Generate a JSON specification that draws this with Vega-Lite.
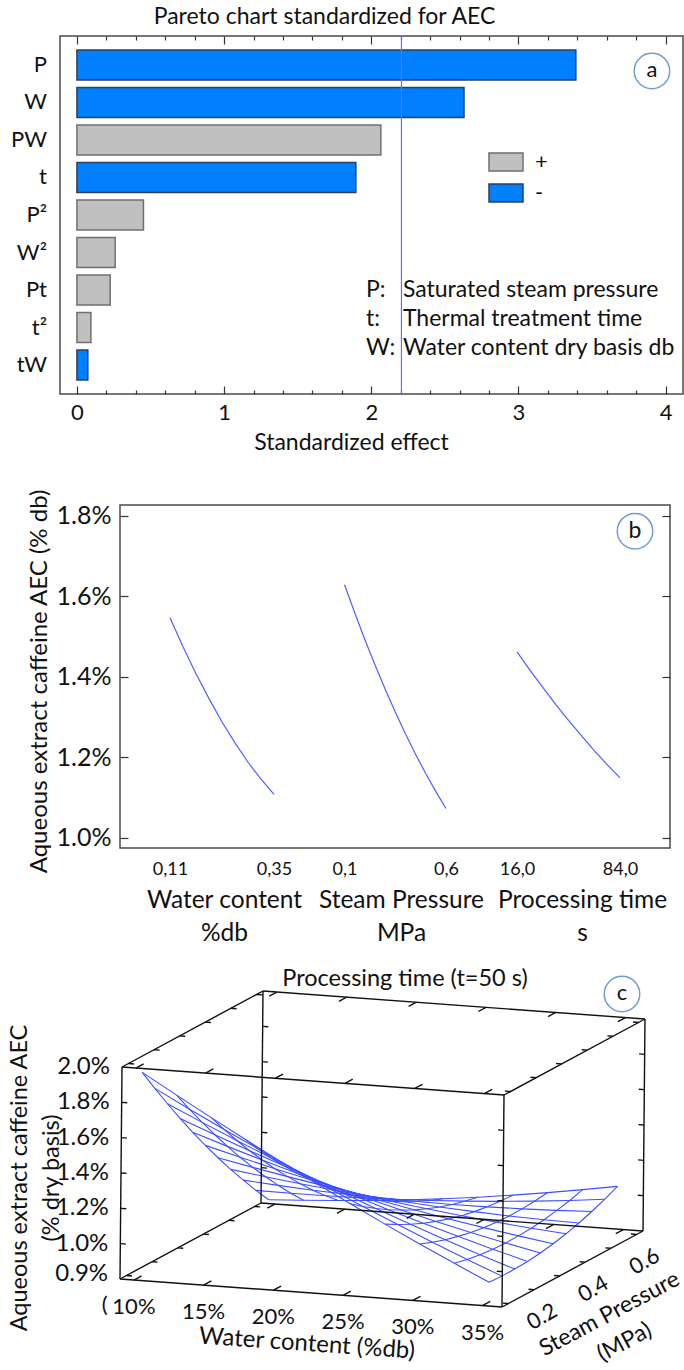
{
  "$schema": "https://vega.github.io/schema/vega-lite/v6.json",
  "padding": {"left": 0, "top": 5, "right": 0, "bottom": 0},
  "spacing": 21,
  "config": {
    "font": "Lato",
    "view": {"stroke": "#4a4a4a", "strokeWidth": 1.5},
    "axis": {"grid": false, "domain": false, "labelFont": "Lato", "titleFont": "Lato", "labelColor": "#111111", "titleColor": "#111111", "titleFontWeight": "normal", "tickColor": "#333333", "labelOverlap": false, "labelFlush": false},
    "legend": {"labelFont": "Lato", "labelColor": "#111111"},
    "title": {"font": "Lato", "fontWeight": "normal", "color": "#111111"},
    "text": {"font": "Lato", "color": "#111111"}
  },
  "vconcat": [
    {
      "spacing": 0,
      "bounds": "flush",
      "hconcat": [
        {"width": 60, "height": 431, "data": {"values": []}, "mark": "point", "view": {"stroke": null}},
        {
          "width": 623,
          "height": 358,
          "title": {"text": "Pareto chart standardized for AEC", "fontSize": 23, "dx": -47, "offset": 6},
          "data": {"values": [
            {"term": "P", "effect": 3.39, "sign": "-"},
            {"term": "W", "effect": 2.63, "sign": "-"},
            {"term": "PW", "effect": 2.065, "sign": "+"},
            {"term": "t", "effect": 1.895, "sign": "-"},
            {"term": "P²", "effect": 0.452, "sign": "+"},
            {"term": "W²", "effect": 0.26, "sign": "+"},
            {"term": "Pt", "effect": 0.226, "sign": "+"},
            {"term": "t²", "effect": 0.095, "sign": "+"},
            {"term": "tW", "effect": 0.074, "sign": "-"}
          ]},
          "resolve": {"axis": {"x": "independent"}},
          "layer": [
            {
              "mark": {"type": "bar", "strokeWidth": 1.5},
              "encoding": {
                "y": {"field": "term", "type": "nominal", "scale": {"domain": ["P", "W", "PW", "t", "P²", "W²", "Pt", "t²", "tW"], "paddingInner": 0.2, "paddingOuter": 0.373}, "axis": null},
                "x": {"field": "effect", "type": "quantitative", "scale": {"domain": [-0.115, 4.118], "nice": false, "zero": false},
                  "axis": {"orient": "bottom", "values": [0, 0.2, 0.4, 0.6, 0.8, 1, 1.2, 1.4, 1.6, 1.8, 2, 2.2, 2.4, 2.6, 2.8, 3, 3.2, 3.4, 3.6, 3.8, 4],
                    "labelExpr": "abs(datum.value - round(datum.value)) < 0.01 ? format(datum.value, 'd') : ''",
                    "tickSize": {"condition": {"test": "abs(datum.value - round(datum.value)) < 0.01", "value": -8}, "value": -4},
                    "tickWidth": 1.2, "labelFontSize": 22, "labelPadding": 16,
                    "title": "Standardized effect", "titleFontSize": 23, "titleX": 291, "titleY": 37, "titleAlign": "center", "titleBaseline": "top"}},
                "x2": {"datum": 0},
                "fill": {"field": "sign", "type": "nominal", "scale": {"domain": ["+", "-"], "range": ["#c0c0c0", "#0080ff"]},
                  "legend": {"title": null, "orient": "none", "legendX": 488, "legendY": 108, "symbolType": "M-1,-0.53H1V0.53H-1Z", "symbolSize": 1156, "symbolStrokeWidth": 1.5, "labelFontSize": 22, "labelOffset": 11, "rowPadding": -5.5}},
                "stroke": {"field": "sign", "type": "nominal", "scale": {"domain": ["+", "-"], "range": ["#6f6f6f", "#2e3f58"]},
                  "legend": {"title": null, "orient": "none", "legendX": 488, "legendY": 108, "symbolType": "M-1,-0.53H1V0.53H-1Z", "symbolSize": 1156, "symbolStrokeWidth": 1.5, "labelFontSize": 22, "labelOffset": 11, "rowPadding": -5.5}}
              }
            },
            {
              "mark": {"type": "text", "align": "right", "baseline": "middle", "fontSize": 22, "xOffset": -13},
              "encoding": {
                "x": {"datum": -0.115, "type": "quantitative", "scale": {"domain": [-0.115, 4.118], "nice": false, "zero": false}, "axis": null},
                "y": {"field": "term", "type": "nominal", "axis": null},
                "text": {"field": "term"}
              }
            },
            {
              "data": {"values": [{"limit": 2.205}]},
              "mark": {"type": "rule", "color": "#6b6bff", "strokeWidth": 1.2},
              "encoding": {
                "x": {"field": "limit", "type": "quantitative", "scale": {"domain": [-0.115, 4.118], "nice": false, "zero": false},
                  "axis": {"orient": "top", "values": [0, 0.2, 0.4, 0.6, 0.8, 1, 1.2, 1.4, 1.6, 1.8, 2, 2.2, 2.4, 2.6, 2.8, 3, 3.2, 3.4, 3.6, 3.8, 4],
                    "labels": false, "title": null,
                    "tickSize": {"condition": {"test": "abs(datum.value - round(datum.value)) < 0.01", "value": -8}, "value": -4},
                    "tickWidth": 1.2}}
              }
            },
            {
              "data": {"values": [{"txt": "P:\nt:\nW:"}]},
              "mark": {"type": "text", "align": "left", "baseline": "middle", "fontSize": 23, "lineHeight": 29, "lineBreak": "\n"},
              "encoding": {
                "x": {"datum": 1.964, "type": "quantitative", "scale": {"domain": [-0.115, 4.118], "nice": false, "zero": false}, "axis": null},
                "y": {"datum": "Pt", "type": "nominal", "axis": null},
                "text": {"field": "txt"}
              }
            },
            {
              "data": {"values": [{"txt": "Saturated steam pressure\nThermal treatment time\nWater content dry basis db"}]},
              "mark": {"type": "text", "align": "left", "baseline": "middle", "fontSize": 23, "lineHeight": 29, "lineBreak": "\n"},
              "encoding": {
                "x": {"datum": 2.215, "type": "quantitative", "scale": {"domain": [-0.115, 4.118], "nice": false, "zero": false}, "axis": null},
                "y": {"datum": "Pt", "type": "nominal", "axis": null},
                "text": {"field": "txt"}
              }
            },
            {
              "data": {"values": [{"lab": "a"}]},
              "mark": {"type": "point", "shape": "circle", "size": 1257, "filled": true, "fill": "#ffffff", "stroke": "#6f9dd3", "strokeWidth": 1.5, "opacity": 1, "yOffset": 6},
              "encoding": {
                "x": {"datum": 3.907, "type": "quantitative", "scale": {"domain": [-0.115, 4.118], "nice": false, "zero": false}, "axis": null},
                "y": {"datum": "P", "type": "nominal", "axis": null}
              }
            },
            {
              "data": {"values": [{"lab": "a"}]},
              "mark": {"type": "text", "fontSize": 22, "align": "center", "baseline": "middle", "yOffset": 5},
              "encoding": {
                "x": {"datum": 3.907, "type": "quantitative", "scale": {"domain": [-0.115, 4.118], "nice": false, "zero": false}, "axis": null},
                "y": {"datum": "P", "type": "nominal", "axis": null},
                "text": {"field": "lab"}
              }
            }
          ]
        }
      ]
    },
    {
      "spacing": 0,
      "bounds": "flush",
      "hconcat": [
        {"width": 120, "height": 343, "data": {"values": []}, "mark": "point", "view": {"stroke": null}},
        {
          "width": 550,
          "height": 343,
          "resolve": {"scale": {"x": "independent"}, "axis": {"x": "independent", "y": "independent"}},
          "layer": [
            {
              "data": {"values": [
                {"W": 0.11, "AEC": 1.547}, {"W": 0.14, "AEC": 1.475}, {"W": 0.17, "AEC": 1.408},
                {"W": 0.20, "AEC": 1.346}, {"W": 0.23, "AEC": 1.288}, {"W": 0.26, "AEC": 1.236},
                {"W": 0.29, "AEC": 1.188}, {"W": 0.32, "AEC": 1.146}, {"W": 0.35, "AEC": 1.108}
              ]},
              "mark": {"type": "line", "color": "#5060ff", "strokeWidth": 1.2},
              "encoding": {
                "x": {"field": "W", "type": "quantitative", "scale": {"domain": [-0.00538, 1.2638], "nice": false, "zero": false},
                  "axis": {"orient": "bottom", "values": [0.11, 0.35], "labelExpr": "replace(format(datum.value, '.2f'), '.', ',')", "ticks": false, "labelFontSize": 18, "labelPadding": 12,
                    "title": ["Water content", "%db"], "titleFontSize": 24.5, "titleX": 104, "titleY": 52, "titleAlign": "center", "titleBaseline": "middle", "titleLineHeight": 33}},
                "y": {"field": "AEC", "type": "quantitative", "scale": {"domain": [0.975, 1.827], "nice": false, "zero": false},
                  "axis": {"orient": "left", "values": [1.0, 1.2, 1.4, 1.6, 1.8], "labelExpr": "format(datum.value, '.1f') + '%'", "tickSize": -8, "tickWidth": 1.2, "labelPadding": 17, "labelFontSize": 25,
                    "title": "Aqueous extract caffeine AEC (% db)", "titleFontSize": 24, "titleX": -81, "titleY": 176, "titleAngle": 270, "titleAlign": "center", "titleBaseline": "middle"}}
              }
            },
            {
              "data": {"values": [
                {"P": 0.10, "AEC": 1.629}, {"P": 0.15, "AEC": 1.560}, {"P": 0.20, "AEC": 1.493},
                {"P": 0.25, "AEC": 1.430}, {"P": 0.30, "AEC": 1.370}, {"P": 0.35, "AEC": 1.313},
                {"P": 0.40, "AEC": 1.259}, {"P": 0.45, "AEC": 1.208}, {"P": 0.50, "AEC": 1.160},
                {"P": 0.55, "AEC": 1.115}, {"P": 0.60, "AEC": 1.073}
              ]},
              "mark": {"type": "line", "color": "#5060ff", "strokeWidth": 1.2},
              "encoding": {
                "x": {"field": "P", "type": "quantitative", "scale": {"domain": [-1.0059, 1.7034], "nice": false, "zero": false},
                  "axis": {"orient": "bottom", "values": [0.1, 0.6], "labelExpr": "replace(format(datum.value, '.1f'), '.', ',')", "ticks": false, "labelFontSize": 18, "labelPadding": 12,
                    "title": ["Steam Pressure", "MPa"], "titleFontSize": 24.5, "titleX": 281, "titleY": 52, "titleAlign": "center", "titleBaseline": "middle", "titleLineHeight": 33}},
                "y": {"field": "AEC", "type": "quantitative", "scale": {"domain": [0.975, 1.827], "nice": false, "zero": false},
                  "axis": {"orient": "right", "values": [1.0, 1.2, 1.4, 1.6, 1.8], "labels": false, "title": null, "tickSize": -8, "tickWidth": 1.2}}
              }
            },
            {
              "data": {"values": [
                {"t": 16, "AEC": 1.462}, {"t": 24.5, "AEC": 1.417}, {"t": 33, "AEC": 1.374},
                {"t": 41.5, "AEC": 1.332}, {"t": 50, "AEC": 1.292}, {"t": 58.5, "AEC": 1.254},
                {"t": 67, "AEC": 1.217}, {"t": 75.5, "AEC": 1.182}, {"t": 84, "AEC": 1.149}
              ]},
              "mark": {"type": "line", "color": "#5060ff", "strokeWidth": 1.2},
              "encoding": {
                "x": {"field": "t", "type": "quantitative", "scale": {"domain": [-246.1, 117.0], "nice": false, "zero": false},
                  "axis": {"orient": "bottom", "values": [16, 84], "labelExpr": "replace(format(datum.value, '.1f'), '.', ',')", "ticks": false, "labelFontSize": 18, "labelPadding": 12,
                    "title": ["Processing time", "s"], "titleFontSize": 24.5, "titleX": 462, "titleY": 52, "titleAlign": "center", "titleBaseline": "middle", "titleLineHeight": 33}},
                "y": {"field": "AEC", "type": "quantitative", "scale": {"domain": [0.975, 1.827], "nice": false, "zero": false}, "axis": null}
              }
            },
            {
              "data": {"values": [{"lab": "b"}]},
              "mark": {"type": "point", "shape": "circle", "size": 1257, "filled": true, "fill": "#ffffff", "stroke": "#6f9dd3", "strokeWidth": 1.5, "opacity": 1},
              "encoding": {
                "x": {"datum": 93.9, "type": "quantitative", "scale": {"domain": [-246.1, 117.0], "nice": false, "zero": false}, "axis": null},
                "y": {"datum": 1.762, "type": "quantitative", "axis": null}
              }
            },
            {
              "data": {"values": [{"lab": "b"}]},
              "mark": {"type": "text", "fontSize": 23, "align": "center", "baseline": "middle"},
              "encoding": {
                "x": {"datum": 93.9, "type": "quantitative", "scale": {"domain": [-246.1, 117.0], "nice": false, "zero": false}, "axis": null},
                "y": {"datum": 1.762, "type": "quantitative", "axis": null},
                "text": {"field": "lab"}
              }
            }
          ]
        }
      ]
    },
    {
      "width": 684,
      "height": 404,
      "view": {"stroke": null},
      "data": {"values": [
        {"k": "m", "W": 0.1, "P": 0.1, "A": 1.956}, {"k": "m", "W": 0.125, "P": 0.1, "A": 1.840}, {"k": "m", "W": 0.15, "P": 0.1, "A": 1.727}, {"k": "m", "W": 0.175, "P": 0.1, "A": 1.616}, {"k": "m", "W": 0.2, "P": 0.1, "A": 1.508}, {"k": "m", "W": 0.225, "P": 0.1, "A": 1.402}, {"k": "m", "W": 0.25, "P": 0.1, "A": 1.299}, {"k": "m", "W": 0.275, "P": 0.1, "A": 1.198}, {"k": "m", "W": 0.3, "P": 0.1, "A": 1.100}, {"k": "m", "W": 0.325, "P": 0.1, "A": 1.005}, {"k": "m", "W": 0.35, "P": 0.1, "A": 0.912},
        {"k": "m", "W": 0.1, "P": 0.15, "A": 1.826}, {"k": "m", "W": 0.125, "P": 0.15, "A": 1.722}, {"k": "m", "W": 0.15, "P": 0.15, "A": 1.622}, {"k": "m", "W": 0.175, "P": 0.15, "A": 1.524}, {"k": "m", "W": 0.2, "P": 0.15, "A": 1.428}, {"k": "m", "W": 0.225, "P": 0.15, "A": 1.335}, {"k": "m", "W": 0.25, "P": 0.15, "A": 1.244}, {"k": "m", "W": 0.275, "P": 0.15, "A": 1.157}, {"k": "m", "W": 0.3, "P": 0.15, "A": 1.071}, {"k": "m", "W": 0.325, "P": 0.15, "A": 0.988}, {"k": "m", "W": 0.35, "P": 0.15, "A": 0.908},
        {"k": "m", "W": 0.1, "P": 0.2, "A": 1.700}, {"k": "m", "W": 0.125, "P": 0.2, "A": 1.609}, {"k": "m", "W": 0.15, "P": 0.2, "A": 1.521}, {"k": "m", "W": 0.175, "P": 0.2, "A": 1.435}, {"k": "m", "W": 0.2, "P": 0.2, "A": 1.353}, {"k": "m", "W": 0.225, "P": 0.2, "A": 1.272}, {"k": "m", "W": 0.25, "P": 0.2, "A": 1.194}, {"k": "m", "W": 0.275, "P": 0.2, "A": 1.119}, {"k": "m", "W": 0.3, "P": 0.2, "A": 1.046}, {"k": "m", "W": 0.325, "P": 0.2, "A": 0.976}, {"k": "m", "W": 0.35, "P": 0.2, "A": 0.909},
        {"k": "m", "W": 0.1, "P": 0.25, "A": 1.578}, {"k": "m", "W": 0.125, "P": 0.25, "A": 1.500}, {"k": "m", "W": 0.15, "P": 0.25, "A": 1.424}, {"k": "m", "W": 0.175, "P": 0.25, "A": 1.352}, {"k": "m", "W": 0.2, "P": 0.25, "A": 1.281}, {"k": "m", "W": 0.225, "P": 0.25, "A": 1.214}, {"k": "m", "W": 0.25, "P": 0.25, "A": 1.148}, {"k": "m", "W": 0.275, "P": 0.25, "A": 1.086}, {"k": "m", "W": 0.3, "P": 0.25, "A": 1.026}, {"k": "m", "W": 0.325, "P": 0.25, "A": 0.968}, {"k": "m", "W": 0.35, "P": 0.25, "A": 0.913},
        {"k": "m", "W": 0.1, "P": 0.3, "A": 1.460}, {"k": "m", "W": 0.125, "P": 0.3, "A": 1.395}, {"k": "m", "W": 0.15, "P": 0.3, "A": 1.332}, {"k": "m", "W": 0.175, "P": 0.3, "A": 1.272}, {"k": "m", "W": 0.2, "P": 0.3, "A": 1.214}, {"k": "m", "W": 0.225, "P": 0.3, "A": 1.159}, {"k": "m", "W": 0.25, "P": 0.3, "A": 1.107}, {"k": "m", "W": 0.275, "P": 0.3, "A": 1.057}, {"k": "m", "W": 0.3, "P": 0.3, "A": 1.009}, {"k": "m", "W": 0.325, "P": 0.3, "A": 0.964}, {"k": "m", "W": 0.35, "P": 0.3, "A": 0.922},
        {"k": "m", "W": 0.1, "P": 0.35, "A": 1.347}, {"k": "m", "W": 0.125, "P": 0.35, "A": 1.294}, {"k": "m", "W": 0.15, "P": 0.35, "A": 1.244}, {"k": "m", "W": 0.175, "P": 0.35, "A": 1.197}, {"k": "m", "W": 0.2, "P": 0.35, "A": 1.152}, {"k": "m", "W": 0.225, "P": 0.35, "A": 1.109}, {"k": "m", "W": 0.25, "P": 0.35, "A": 1.069}, {"k": "m", "W": 0.275, "P": 0.35, "A": 1.032}, {"k": "m", "W": 0.3, "P": 0.35, "A": 0.997}, {"k": "m", "W": 0.325, "P": 0.35, "A": 0.965}, {"k": "m", "W": 0.35, "P": 0.35, "A": 0.935},
        {"k": "m", "W": 0.1, "P": 0.4, "A": 1.238}, {"k": "m", "W": 0.125, "P": 0.4, "A": 1.198}, {"k": "m", "W": 0.15, "P": 0.4, "A": 1.160}, {"k": "m", "W": 0.175, "P": 0.4, "A": 1.125}, {"k": "m", "W": 0.2, "P": 0.4, "A": 1.093}, {"k": "m", "W": 0.225, "P": 0.4, "A": 1.063}, {"k": "m", "W": 0.25, "P": 0.4, "A": 1.036}, {"k": "m", "W": 0.275, "P": 0.4, "A": 1.011}, {"k": "m", "W": 0.3, "P": 0.4, "A": 0.989}, {"k": "m", "W": 0.325, "P": 0.4, "A": 0.969}, {"k": "m", "W": 0.35, "P": 0.4, "A": 0.952},
        {"k": "m", "W": 0.1, "P": 0.45, "A": 1.133}, {"k": "m", "W": 0.125, "P": 0.45, "A": 1.106}, {"k": "m", "W": 0.15, "P": 0.45, "A": 1.081}, {"k": "m", "W": 0.175, "P": 0.45, "A": 1.058}, {"k": "m", "W": 0.2, "P": 0.45, "A": 1.039}, {"k": "m", "W": 0.225, "P": 0.45, "A": 1.022}, {"k": "m", "W": 0.25, "P": 0.45, "A": 1.007}, {"k": "m", "W": 0.275, "P": 0.45, "A": 0.995}, {"k": "m", "W": 0.3, "P": 0.45, "A": 0.985}, {"k": "m", "W": 0.325, "P": 0.45, "A": 0.978}, {"k": "m", "W": 0.35, "P": 0.45, "A": 0.974},
        {"k": "m", "W": 0.1, "P": 0.5, "A": 1.033}, {"k": "m", "W": 0.125, "P": 0.5, "A": 1.018}, {"k": "m", "W": 0.15, "P": 0.5, "A": 1.005}, {"k": "m", "W": 0.175, "P": 0.5, "A": 0.996}, {"k": "m", "W": 0.2, "P": 0.5, "A": 0.989}, {"k": "m", "W": 0.225, "P": 0.5, "A": 0.984}, {"k": "m", "W": 0.25, "P": 0.5, "A": 0.982}, {"k": "m", "W": 0.275, "P": 0.5, "A": 0.983}, {"k": "m", "W": 0.3, "P": 0.5, "A": 0.986}, {"k": "m", "W": 0.325, "P": 0.5, "A": 0.992}, {"k": "m", "W": 0.35, "P": 0.5, "A": 1.000},
        {"k": "m", "W": 0.1, "P": 0.55, "A": 0.936}, {"k": "m", "W": 0.125, "P": 0.55, "A": 0.934}, {"k": "m", "W": 0.15, "P": 0.55, "A": 0.934}, {"k": "m", "W": 0.175, "P": 0.55, "A": 0.937}, {"k": "m", "W": 0.2, "P": 0.55, "A": 0.943}, {"k": "m", "W": 0.225, "P": 0.55, "A": 0.951}, {"k": "m", "W": 0.25, "P": 0.55, "A": 0.962}, {"k": "m", "W": 0.275, "P": 0.55, "A": 0.975}, {"k": "m", "W": 0.3, "P": 0.55, "A": 0.991}, {"k": "m", "W": 0.325, "P": 0.55, "A": 1.009}, {"k": "m", "W": 0.35, "P": 0.55, "A": 1.030},
        {"k": "m", "W": 0.1, "P": 0.6, "A": 0.844}, {"k": "m", "W": 0.125, "P": 0.6, "A": 0.855}, {"k": "m", "W": 0.15, "P": 0.6, "A": 0.868}, {"k": "m", "W": 0.175, "P": 0.6, "A": 0.883}, {"k": "m", "W": 0.2, "P": 0.6, "A": 0.901}, {"k": "m", "W": 0.225, "P": 0.6, "A": 0.922}, {"k": "m", "W": 0.25, "P": 0.6, "A": 0.945}, {"k": "m", "W": 0.275, "P": 0.6, "A": 0.971}, {"k": "m", "W": 0.3, "P": 0.6, "A": 1.000}, {"k": "m", "W": 0.325, "P": 0.6, "A": 1.031}, {"k": "m", "W": 0.35, "P": 0.6, "A": 1.064},
        {"k": "e", "W": 0.09, "P": 0.075, "A": 0.8, "W2": 0.364, "P2": 0.075, "A2": 0.8},
        {"k": "e", "W": 0.09, "P": 0.625, "A": 0.8, "W2": 0.364, "P2": 0.625, "A2": 0.8},
        {"k": "e", "W": 0.09, "P": 0.075, "A": 2.0, "W2": 0.364, "P2": 0.075, "A2": 2.0},
        {"k": "e", "W": 0.09, "P": 0.625, "A": 2.0, "W2": 0.364, "P2": 0.625, "A2": 2.0},
        {"k": "e", "W": 0.09, "P": 0.075, "A": 0.8, "W2": 0.09, "P2": 0.625, "A2": 0.8},
        {"k": "e", "W": 0.364, "P": 0.075, "A": 0.8, "W2": 0.364, "P2": 0.625, "A2": 0.8},
        {"k": "e", "W": 0.09, "P": 0.075, "A": 2.0, "W2": 0.09, "P2": 0.625, "A2": 2.0},
        {"k": "e", "W": 0.364, "P": 0.075, "A": 2.0, "W2": 0.364, "P2": 0.625, "A2": 2.0},
        {"k": "e", "W": 0.09, "P": 0.075, "A": 0.8, "W2": 0.09, "P2": 0.075, "A2": 2.0},
        {"k": "e", "W": 0.364, "P": 0.075, "A": 0.8, "W2": 0.364, "P2": 0.075, "A2": 2.0},
        {"k": "e", "W": 0.09, "P": 0.625, "A": 0.8, "W2": 0.09, "P2": 0.625, "A2": 2.0},
        {"k": "e", "W": 0.364, "P": 0.625, "A": 0.8, "W2": 0.364, "P2": 0.625, "A2": 2.0},
        {"k": "tw", "W": 0.09, "P": 0.075, "A": 1.0}, {"k": "tw", "W": 0.09, "P": 0.075, "A": 1.2}, {"k": "tw", "W": 0.09, "P": 0.075, "A": 1.4}, {"k": "tw", "W": 0.09, "P": 0.075, "A": 1.6}, {"k": "tw", "W": 0.09, "P": 0.075, "A": 1.8},
        {"k": "tw", "W": 0.364, "P": 0.075, "A": 1.0}, {"k": "tw", "W": 0.364, "P": 0.075, "A": 1.2}, {"k": "tw", "W": 0.364, "P": 0.075, "A": 1.4}, {"k": "tw", "W": 0.364, "P": 0.075, "A": 1.6}, {"k": "tw", "W": 0.364, "P": 0.075, "A": 1.8},
        {"k": "tw", "W": 0.09, "P": 0.625, "A": 1.0}, {"k": "tw", "W": 0.09, "P": 0.625, "A": 1.2}, {"k": "tw", "W": 0.09, "P": 0.625, "A": 1.4}, {"k": "tw", "W": 0.09, "P": 0.625, "A": 1.6}, {"k": "tw", "W": 0.09, "P": 0.625, "A": 1.8},
        {"k": "tw", "W": 0.364, "P": 0.625, "A": 1.0}, {"k": "tw", "W": 0.364, "P": 0.625, "A": 1.2}, {"k": "tw", "W": 0.364, "P": 0.625, "A": 1.4}, {"k": "tw", "W": 0.364, "P": 0.625, "A": 1.6}, {"k": "tw", "W": 0.364, "P": 0.625, "A": 1.8},
        {"k": "tw", "W": 0.09, "P": 0.1, "A": 0.8}, {"k": "tw", "W": 0.09, "P": 0.2, "A": 0.8}, {"k": "tw", "W": 0.09, "P": 0.3, "A": 0.8}, {"k": "tw", "W": 0.09, "P": 0.4, "A": 0.8}, {"k": "tw", "W": 0.09, "P": 0.5, "A": 0.8}, {"k": "tw", "W": 0.09, "P": 0.6, "A": 0.8},
        {"k": "tw", "W": 0.364, "P": 0.1, "A": 0.8}, {"k": "tw", "W": 0.364, "P": 0.2, "A": 0.8}, {"k": "tw", "W": 0.364, "P": 0.3, "A": 0.8}, {"k": "tw", "W": 0.364, "P": 0.4, "A": 0.8}, {"k": "tw", "W": 0.364, "P": 0.5, "A": 0.8}, {"k": "tw", "W": 0.364, "P": 0.6, "A": 0.8},
        {"k": "tw", "W": 0.09, "P": 0.1, "A": 2.0}, {"k": "tw", "W": 0.09, "P": 0.2, "A": 2.0}, {"k": "tw", "W": 0.09, "P": 0.3, "A": 2.0}, {"k": "tw", "W": 0.09, "P": 0.4, "A": 2.0}, {"k": "tw", "W": 0.09, "P": 0.5, "A": 2.0}, {"k": "tw", "W": 0.09, "P": 0.6, "A": 2.0},
        {"k": "tw", "W": 0.364, "P": 0.1, "A": 2.0}, {"k": "tw", "W": 0.364, "P": 0.2, "A": 2.0}, {"k": "tw", "W": 0.364, "P": 0.3, "A": 2.0}, {"k": "tw", "W": 0.364, "P": 0.4, "A": 2.0}, {"k": "tw", "W": 0.364, "P": 0.5, "A": 2.0}, {"k": "tw", "W": 0.364, "P": 0.6, "A": 2.0},
        {"k": "tp", "W": 0.1, "P": 0.075, "A": 0.8}, {"k": "tp", "W": 0.15, "P": 0.075, "A": 0.8}, {"k": "tp", "W": 0.2, "P": 0.075, "A": 0.8}, {"k": "tp", "W": 0.25, "P": 0.075, "A": 0.8}, {"k": "tp", "W": 0.3, "P": 0.075, "A": 0.8}, {"k": "tp", "W": 0.35, "P": 0.075, "A": 0.8},
        {"k": "tp", "W": 0.1, "P": 0.625, "A": 0.8}, {"k": "tp", "W": 0.15, "P": 0.625, "A": 0.8}, {"k": "tp", "W": 0.2, "P": 0.625, "A": 0.8}, {"k": "tp", "W": 0.25, "P": 0.625, "A": 0.8}, {"k": "tp", "W": 0.3, "P": 0.625, "A": 0.8}, {"k": "tp", "W": 0.35, "P": 0.625, "A": 0.8},
        {"k": "tp", "W": 0.1, "P": 0.075, "A": 2.0}, {"k": "tp", "W": 0.15, "P": 0.075, "A": 2.0}, {"k": "tp", "W": 0.2, "P": 0.075, "A": 2.0}, {"k": "tp", "W": 0.25, "P": 0.075, "A": 2.0}, {"k": "tp", "W": 0.3, "P": 0.075, "A": 2.0}, {"k": "tp", "W": 0.35, "P": 0.075, "A": 2.0},
        {"k": "tp", "W": 0.1, "P": 0.625, "A": 2.0}, {"k": "tp", "W": 0.15, "P": 0.625, "A": 2.0}, {"k": "tp", "W": 0.2, "P": 0.625, "A": 2.0}, {"k": "tp", "W": 0.25, "P": 0.625, "A": 2.0}, {"k": "tp", "W": 0.3, "P": 0.625, "A": 2.0}, {"k": "tp", "W": 0.35, "P": 0.625, "A": 2.0},
        {"k": "zl", "W": 0.09, "P": 0.075, "A": 2.0, "lab": "2.0%"}, {"k": "zl", "W": 0.09, "P": 0.075, "A": 1.8, "lab": "1.8%"}, {"k": "zl", "W": 0.09, "P": 0.075, "A": 1.6, "lab": "1.6%"}, {"k": "zl", "W": 0.09, "P": 0.075, "A": 1.4, "lab": "1.4%"}, {"k": "zl", "W": 0.09, "P": 0.075, "A": 1.2, "lab": "1.2%"}, {"k": "zl", "W": 0.09, "P": 0.075, "A": 1.0, "lab": "1.0%"}, {"k": "zl", "W": 0.09, "P": 0.075, "A": 0.83, "lab": "0.9%"},
        {"k": "wl", "W": 0.079, "P": 0.075, "A": 0.8, "lab": "("}, {"k": "wl", "W": 0.10, "P": 0.075, "A": 0.8, "lab": "10%"}, {"k": "wl", "W": 0.15, "P": 0.075, "A": 0.8, "lab": "15%"}, {"k": "wl", "W": 0.20, "P": 0.075, "A": 0.8, "lab": "20%"}, {"k": "wl", "W": 0.25, "P": 0.075, "A": 0.8, "lab": "25%"}, {"k": "wl", "W": 0.30, "P": 0.075, "A": 0.8, "lab": "30%"}, {"k": "wl", "W": 0.35, "P": 0.075, "A": 0.8, "lab": "35%"},
        {"k": "pl", "W": 0.364, "P": 0.2, "A": 0.8, "lab": "0.2"}, {"k": "pl", "W": 0.364, "P": 0.4, "A": 0.8, "lab": "0.4"}, {"k": "pl", "W": 0.364, "P": 0.6, "A": 0.8, "lab": "0.6"},
        {"k": "T1", "W": 0.227, "P": 0.075, "A": 0.8, "lab": "Water content (%db)"},
        {"k": "T2", "W": 0.364, "P": 0.35, "A": 0.8, "lab": "Steam Pressure\n(MPa)"},
        {"k": "T3", "W": 0.09, "P": 0.075, "A": 1.4, "lab": "Aqueous extract caffeine AEC\n(% dry basis)"},
        {"k": "T4", "W": 0.227, "P": 0.625, "A": 2.0, "lab": "Processing time (t=50 s)"},
        {"k": "c", "W": 0.364, "P": 0.625, "A": 2.0, "lab": "c"}
      ]},
      "transform": [
        {"calculate": "120 + 382*(datum.W-0.09)/0.274 + 141*(datum.P-0.075)/0.55 + 2*(datum.A-0.8)/1.2", "as": "sx"},
        {"calculate": "1278 + 28*(datum.W-0.09)/0.274 - 76*(datum.P-0.075)/0.55 - 212*(datum.A-0.8)/1.2", "as": "sy"}
      ],
      "encoding": {
        "x": {"field": "sx", "type": "quantitative", "scale": {"domain": [0, 684], "nice": false, "zero": false}, "axis": null},
        "y": {"field": "sy", "type": "quantitative", "scale": {"domain": [966, 1370], "reverse": true, "nice": false, "zero": false}, "axis": null}
      },
      "layer": [
        {
          "transform": [{"filter": "datum.k === 'm'"}],
          "mark": {"type": "line", "color": "#3b4fff", "strokeWidth": 1.1},
          "encoding": {"detail": {"field": "P", "type": "nominal"}, "order": {"field": "W", "type": "quantitative"}}
        },
        {
          "transform": [{"filter": "datum.k === 'm'"}],
          "mark": {"type": "line", "color": "#3b4fff", "strokeWidth": 1.1},
          "encoding": {"detail": {"field": "W", "type": "nominal"}, "order": {"field": "P", "type": "quantitative"}}
        },
        {
          "transform": [
            {"filter": "datum.k === 'e'"},
            {"calculate": "120 + 382*(datum.W2-0.09)/0.274 + 141*(datum.P2-0.075)/0.55 + 2*(datum.A2-0.8)/1.2", "as": "sx2"},
            {"calculate": "1278 + 28*(datum.W2-0.09)/0.274 - 76*(datum.P2-0.075)/0.55 - 212*(datum.A2-0.8)/1.2", "as": "sy2"}
          ],
          "mark": {"type": "rule", "color": "#111111", "strokeWidth": 1.4},
          "encoding": {"x2": {"field": "sx2"}, "y2": {"field": "sy2"}}
        },
        {
          "transform": [
            {"filter": "datum.k === 'tw'"},
            {"calculate": "datum.W + (datum.W < 0.2 ? 0.004 : -0.004)", "as": "W2"},
            {"calculate": "120 + 382*(datum.W2-0.09)/0.274 + 141*(datum.P-0.075)/0.55 + 2*(datum.A-0.8)/1.2", "as": "sx2"},
            {"calculate": "1278 + 28*(datum.W2-0.09)/0.274 - 76*(datum.P-0.075)/0.55 - 212*(datum.A-0.8)/1.2", "as": "sy2"}
          ],
          "mark": {"type": "rule", "color": "#111111", "strokeWidth": 1.4},
          "encoding": {"x2": {"field": "sx2"}, "y2": {"field": "sy2"}}
        },
        {
          "transform": [
            {"filter": "datum.k === 'tp'"},
            {"calculate": "datum.P + (datum.P < 0.3 ? 0.03 : -0.03)", "as": "P2"},
            {"calculate": "120 + 382*(datum.W-0.09)/0.274 + 141*(datum.P2-0.075)/0.55 + 2*(datum.A-0.8)/1.2", "as": "sx2"},
            {"calculate": "1278 + 28*(datum.W-0.09)/0.274 - 76*(datum.P2-0.075)/0.55 - 212*(datum.A-0.8)/1.2", "as": "sy2"}
          ],
          "mark": {"type": "rule", "color": "#111111", "strokeWidth": 1.4},
          "encoding": {"x2": {"field": "sx2"}, "y2": {"field": "sy2"}}
        },
        {
          "transform": [{"filter": "datum.k === 'zl'"}],
          "mark": {"type": "text", "align": "right", "baseline": "middle", "fontSize": 24, "xOffset": -12},
          "encoding": {"text": {"field": "lab"}}
        },
        {
          "transform": [{"filter": "datum.k === 'wl'"}],
          "mark": {"type": "text", "align": "center", "baseline": "middle", "fontSize": 22, "yOffset": 27},
          "encoding": {"text": {"field": "lab"}}
        },
        {
          "transform": [{"filter": "datum.k === 'pl'"}],
          "mark": {"type": "text", "align": "center", "baseline": "middle", "fontSize": 22, "angle": 330, "xOffset": 8, "yOffset": 27},
          "encoding": {"text": {"field": "lab"}}
        },
        {
          "transform": [{"filter": "datum.k === 'T1'"}],
          "mark": {"type": "text", "align": "center", "baseline": "middle", "fontSize": 24, "angle": 4, "xOffset": -4, "yOffset": 51},
          "encoding": {"text": {"field": "lab"}}
        },
        {
          "transform": [{"filter": "datum.k === 'T2'"}],
          "mark": {"type": "text", "align": "center", "baseline": "middle", "fontSize": 23, "angle": 332, "xOffset": 37, "yOffset": 45, "lineBreak": "\n", "lineHeight": 32},
          "encoding": {"text": {"field": "lab"}}
        },
        {
          "transform": [{"filter": "datum.k === 'T3'"}],
          "mark": {"type": "text", "align": "center", "baseline": "middle", "fontSize": 23.5, "angle": 270, "xOffset": -101, "yOffset": 5, "lineBreak": "\n", "lineHeight": 32},
          "encoding": {"text": {"field": "lab"}}
        },
        {
          "transform": [{"filter": "datum.k === 'T4'"}],
          "mark": {"type": "text", "align": "center", "baseline": "middle", "fontSize": 23.5, "xOffset": -49, "yOffset": -26},
          "encoding": {"text": {"field": "lab"}}
        },
        {
          "transform": [{"filter": "datum.k === 'c'"}],
          "mark": {"type": "point", "shape": "circle", "size": 1257, "filled": true, "fill": "#ffffff", "stroke": "#6f9dd3", "strokeWidth": 1.5, "opacity": 1, "xOffset": -23, "yOffset": -25}
        },
        {
          "transform": [{"filter": "datum.k === 'c'"}],
          "mark": {"type": "text", "align": "center", "baseline": "middle", "fontSize": 22, "xOffset": -23, "yOffset": -26},
          "encoding": {"text": {"field": "lab"}}
        }
      ]
    }
  ]
}
